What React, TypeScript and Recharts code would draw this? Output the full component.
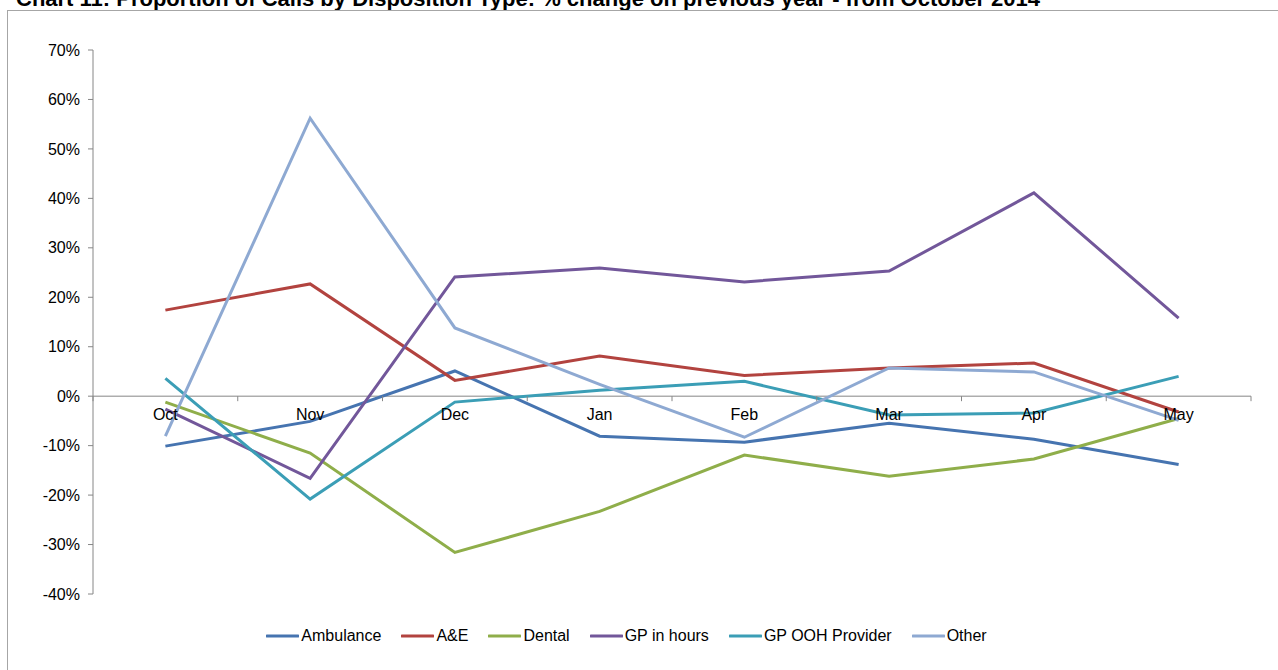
import React from 'react';
import { LineChart, Line, XAxis, YAxis, ReferenceLine, ReferenceDot } from 'recharts';

const months = ['Oct', 'Nov', 'Dec', 'Jan', 'Feb', 'Mar', 'Apr', 'May'];

const ambulance = [-10.1, -5.1, 5.1, -8.1, -9.3, -5.5, -8.7, -13.8];
const aAndE = [17.4, 22.7, 3.2, 8.1, 4.2, 5.7, 6.7, -3.2];
const dental = [-1.2, -11.5, -31.6, -23.3, -11.9, -16.2, -12.7, -4.5];
const gpInHours = [-2.6, -16.6, 24.1, 25.9, 23.1, 25.3, 41.1, 15.8];
const gpOoh = [3.6, -20.8, -1.2, 1.2, 3.0, -3.8, -3.4, 4.0];
const other = [-8.1, 56.2, 13.8, 2.4, -8.3, 5.7, 4.9, -4.9];

const yTicks = [-40, -30, -20, -10, 0, 10, 20, 30, 40, 50, 60, 70];

const series = [
  { key: 'ambulance', name: 'Ambulance', color: '#4674B0' },
  { key: 'ae', name: 'A&E', color: '#B2433F' },
  { key: 'dental', name: 'Dental', color: '#8FAE4A' },
  { key: 'gp', name: 'GP in hours', color: '#72579A' },
  { key: 'ooh', name: 'GP OOH Provider', color: '#3B9EB6' },
  { key: 'other', name: 'Other', color: '#8EA9D2' },
];

const data = months.map((m, i) => ({
  month: m,
  ambulance: ambulance[i],
  ae: aAndE[i],
  dental: dental[i],
  gp: gpInHours[i],
  ooh: gpOoh[i],
  other: other[i],
}));

const FONT = '"Liberation Sans", Arial, sans-serif';
const W = 1278;
const H = 670;
const MARGIN = { top: 50, right: 27, bottom: 76, left: 0 };
const HALF_BAND = (W - 93 - MARGIN.right) / months.length / 2;

const ChartLegend = () => (
  <div
    style={{
      position: 'absolute',
      left: 0,
      top: 627,
      width: 1253,
      display: 'flex',
      justifyContent: 'center',
      alignItems: 'center',
      fontFamily: FONT,
      fontSize: 16,
      color: '#000',
    }}
  >
    {series.map((s, i) => (
      <div key={s.key} style={{ display: 'flex', alignItems: 'center', marginLeft: i === 0 ? 0 : 20 }}>
        <svg width={33} height={6} style={{ marginRight: 2 }}>
          <line x1={1} y1={3} x2={32} y2={3} stroke={s.color} strokeWidth={3} strokeLinecap="round" />
        </svg>
        <span>{s.name}</span>
      </div>
    ))}
  </div>
);

// category tick mark at the left edge of each band, plus one at the far right
const TickMark = (props: any) => {
  const { cx, cy, last } = props;
  return (
    <g>
      <line x1={cx - HALF_BAND} y1={cy} x2={cx - HALF_BAND} y2={cy + 5} stroke="#868686" />
      {last && <line x1={cx + HALF_BAND} y1={cy} x2={cx + HALF_BAND} y2={cy + 5} stroke="#868686" />}
    </g>
  );
};

export default function App() {
  return (
    <div style={{ position: 'absolute', left: 0, top: 0, width: W, height: H, background: '#fff', overflow: 'hidden' }}>
      <div
        style={{
          position: 'absolute',
          left: 16,
          top: -14,
          fontFamily: FONT,
          fontWeight: 'bold',
          fontSize: 22,
          whiteSpace: 'nowrap',
          color: '#000',
        }}
      >
        Chart 11: Proportion of Calls by Disposition Type: % change on previous year - from October 2014
      </div>
      <div
        style={{
          position: 'absolute',
          left: 7,
          top: 10,
          width: W,
          height: H,
          border: '1px solid #A6A6A6',
          boxSizing: 'border-box',
        }}
      />
      <div style={{ position: 'absolute', left: 0, top: 0 }}>
        <LineChart width={W} height={H} data={data} margin={MARGIN}>
          <XAxis dataKey="month" scale="band" hide />
          <YAxis
            width={93}
            domain={[-40, 70]}
            ticks={yTicks}
            interval={0}
            tickFormatter={(v: number) => `${v}%`}
            axisLine={{ stroke: '#868686' }}
            tickLine={{ stroke: '#868686' }}
            tickSize={5}
            tickMargin={8}
            tick={{ fill: '#000', fontSize: 16, fontFamily: FONT }}
          />
          <ReferenceLine y={0} stroke="#868686" />
          {months.map((m, i) => (
            <ReferenceDot
              key={m}
              x={m}
              y={0}
              r={1}
              fill="none"
              stroke="none"
              shape={(p: any) => <TickMark {...p} last={i === months.length - 1} />}
              label={{ value: m, position: 'bottom', offset: 11, fill: '#000', fontSize: 16, fontFamily: FONT }}
            />
          ))}
          {series.map((s) => (
            <Line
              key={s.key}
              type="linear"
              dataKey={s.key}
              name={s.name}
              stroke={s.color}
              strokeWidth={3}
              dot={false}
              isAnimationActive={false}
            />
          ))}
        </LineChart>
      </div>
      <ChartLegend />
    </div>
  );
}
